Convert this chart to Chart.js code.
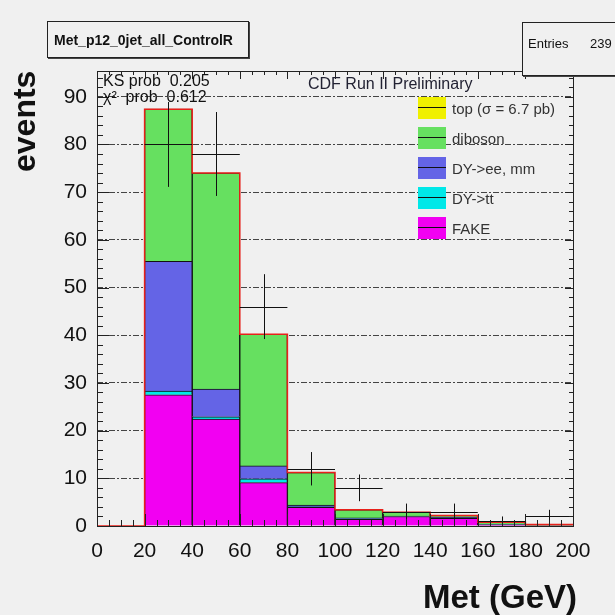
<!DOCTYPE html>
<html>
<head>
<meta charset="utf-8">
<script src="https://cdn.jsdelivr.net/npm/chart.js@4.4.1/dist/chart.umd.min.js"></script>
<style>
  body { margin: 0; background: #f0f0f0; font-family: "Liberation Sans", Arial, sans-serif; }
  #wrap { position: relative; width: 615px; height: 615px; overflow: hidden; }
  #chart { position: absolute; left: 0; top: 0; }
  .box { position: absolute; border: 1px solid #222; background: #f0f0f0; box-shadow: 1px 1px 0 #444; color: #111; }
  .txt { position: absolute; white-space: nowrap; color: #111; line-height: 1; }
  .leg { position: absolute; left: 418px; height: 22px; }
  .leg .sw { position: absolute; left: 0; top: 0; width: 28px; height: 22px; }
  .leg .sw::after { content: ""; position: absolute; left: 0; right: 0; top: 10px; height: 1px; background: #111; }
  .leg .lb { position: absolute; left: 34px; top: 3px; font-size: 15px; color: #333; white-space: nowrap; }
</style>
</head>
<body>
<div id="wrap">
  <canvas id="chart" width="615" height="615"></canvas>

  <div class="box" style="left:47px; top:21px; width:200px; height:35px;">
    <span class="txt" style="left:6px; top:11px; font-size:14px; font-weight:bold;">Met_p12_0jet_all_ControlR</span>
  </div>
  <div class="box" style="left:522px; top:22px; width:110px; height:52px;">
    <span class="txt" style="left:5px; top:14px; font-size:13px;">Entries</span>
    <span class="txt" style="left:67px; top:14px; font-size:13px;">239</span>
  </div>

  <span class="txt" style="left:103px; top:73px; font-size:16px;">KS prob&nbsp; 0.205</span>
  <span class="txt" style="left:103px; top:89px; font-size:16px;">χ² &nbsp;prob&nbsp; 0.612</span>
  <span class="txt" style="left:308px; top:76px; font-size:16px; color:#223;">CDF Run II Preliminary</span>

  <div id="legend"></div>

  <span class="txt" style="left:8px; top:172px; font-size:32px; font-weight:bold; transform:rotate(-90deg); transform-origin:0 0;">events</span>
  <span class="txt" style="right:38px; top:580px; font-size:33px; font-weight:bold;">Met (GeV)</span>
</div>

<script>
// bin edges of the Met histogram (GeV)
const binEdges = [0, 20, 40, 60, 80, 100, 120, 140, 160, 180, 200];

// expected backgrounds per bin, stacked bottom to top
const fake    = [0, 27.5, 22.4, 9.1, 3.9, 1.4, 2.0, 1.6, 0.2, 0.1];
const dyTauTau = [0, 0.8, 0.5, 0.8, 0.1, 0.1, 0.0, 0.0, 0.0, 0.0];
const dyEeMm  = [0, 27.2, 5.8, 2.7, 0.4, 0.2, 0.1, 0.2, 0.1, 0.0];
const diboson = [0, 31.9, 45.3, 27.6, 6.8, 1.7, 0.8, 0.4, 0.5, 0.2];
const topQuark = [0, 0, 0, 0, 0, 0, 0, 0, 0, 0];

// observed events and their errors
const observed = [0, 80, 78, 46, 12, 8, 3, 3, 1, 2];
const obsErr   = [0, 8.9, 8.8, 6.8, 3.5, 2.8, 1.7, 1.7, 1.0, 1.4];

const yTicks = [0, 10, 20, 30, 40, 50, 60, 70, 80, 90];

const components = [
  { label: "FAKE",            values: fake,     color: "#f200f2" },
  { label: "DY->tt",          values: dyTauTau, color: "#00e8e8" },
  { label: "DY->ee, mm",      values: dyEeMm,   color: "#6464e6" },
  { label: "diboson",         values: diboson,  color: "#66e060" },
  { label: "top (σ = 6.7 pb)", values: topQuark, color: "#f0f000" }
];

const centers = binEdges.slice(0, -1).map((lo, i) => (lo + binEdges[i + 1]) / 2);
const totals = centers.map((c, i) => components.reduce((s, comp) => s + comp.values[i], 0));

const barSets = components.map(comp => ({
  type: "bar",
  label: comp.label,
  data: centers.map((c, i) => ({ x: c, y: comp.values[i] })),
  backgroundColor: comp.color,
  borderColor: "#111",
  borderWidth: 1,
  barPercentage: 1,
  categoryPercentage: 1,
  stack: "bkg",
  order: 1
}));

// red envelope around the summed backgrounds
const outline = {
  type: "line",
  label: "total",
  data: binEdges.map((e, i) => ({ x: e, y: totals[Math.min(i, totals.length - 1)] })),
  borderColor: "#e8201a",
  borderWidth: 1.5,
  pointRadius: 0,
  stepped: true,
  fill: false,
  stack: "outline",
  order: 0
};

// observed points with error crosses, plus the ROOT style frame with inward ticks
const rootFrame = {
  id: "rootFrame",
  afterDatasetsDraw(chart) {
    const { ctx, chartArea: a, scales: { x, y } } = chart;
    ctx.save();
    ctx.strokeStyle = "#111";
    ctx.lineWidth = 1;
    observed.forEach((n, i) => {
      if (!n) return;
      const x0 = x.getPixelForValue(binEdges[i]);
      const x1 = x.getPixelForValue(binEdges[i + 1]);
      const xc = x.getPixelForValue(centers[i]);
      const yc = Math.round(y.getPixelForValue(n)) + 0.5;
      ctx.beginPath();
      ctx.moveTo(x0, yc); ctx.lineTo(x1, yc);
      ctx.moveTo(Math.round(xc) + 0.5, y.getPixelForValue(n + obsErr[i]));
      ctx.lineTo(Math.round(xc) + 0.5, y.getPixelForValue(Math.max(0, n - obsErr[i])));
      ctx.stroke();
    });

    ctx.strokeStyle = "#222";
    ctx.strokeRect(Math.round(a.left) + 0.5, Math.round(a.top) + 0.5,
                   Math.round(a.right - a.left), Math.round(a.bottom - a.top));
    ctx.beginPath();
    for (let v = 0; v <= y.max; v += 2) {
      const py = Math.round(y.getPixelForValue(v)) + 0.5;
      const major = v % 10 === 0;
      ctx.moveTo(a.left, py); ctx.lineTo(a.left + (major ? 12 : 6), py);
      ctx.moveTo(a.right, py); ctx.lineTo(a.right - (major ? 8 : 4), py);
    }
    for (let v = 0; v <= x.max; v += 5) {
      const px = Math.round(x.getPixelForValue(v)) + 0.5;
      const major = v % 20 === 0;
      ctx.moveTo(px, a.bottom); ctx.lineTo(px, a.bottom - (major ? 12 : 6));
      ctx.moveTo(px, a.top); ctx.lineTo(px, a.top + (major ? 8 : 4));
    }
    ctx.stroke();
    ctx.restore();
  }
};

const tickFont = { family: "'Liberation Sans', Arial, sans-serif", size: 21 };

new Chart(document.getElementById("chart"), {
  data: { datasets: [...barSets, outline] },
  options: {
    responsive: false,
    animation: false,
    devicePixelRatio: 1,
    layout: { padding: { top: 71, right: 42, left: 0, bottom: 0 } },
    plugins: { legend: { display: false }, tooltip: { enabled: false } },
    scales: {
      x: {
        type: "linear",
        offset: false,
        min: 0, max: 200,
        stacked: true,
        grid: { display: false, offset: false },
        border: { display: false },
        ticks: { stepSize: 20, color: "#111", font: tickFont, padding: 5, maxRotation: 0 },
        afterFit: s => { s.height = 89; }
      },
      y: {
        type: "linear",
        min: 0, max: 95.4,
        stacked: true,
        afterBuildTicks: s => { s.ticks = yTicks.map(v => ({ value: v })); },
        afterFit: s => { s.width = 97; },
        grid: {
          drawTicks: false,
          color: ctx => ctx.tick && ctx.tick.value === 0 ? "rgba(0,0,0,0)" : "#444",
          lineWidth: 1
        },
        border: { display: false, dash: [6, 2, 2, 2] },
        ticks: { color: "#111", font: tickFont, padding: 10 }
      }
    }
  },
  plugins: [rootFrame]
});

// legend, drawn top entry first
const legend = document.getElementById("legend");
components.slice().reverse().forEach((comp, i) => {
  const row = document.createElement("div");
  row.className = "leg";
  row.style.top = (97 + i * 30) + "px";
  row.innerHTML = `<div class="sw" style="background:${comp.color}"></div><span class="lb">${comp.label}</span>`;
  legend.appendChild(row);
});
</script>
</body>
</html>
